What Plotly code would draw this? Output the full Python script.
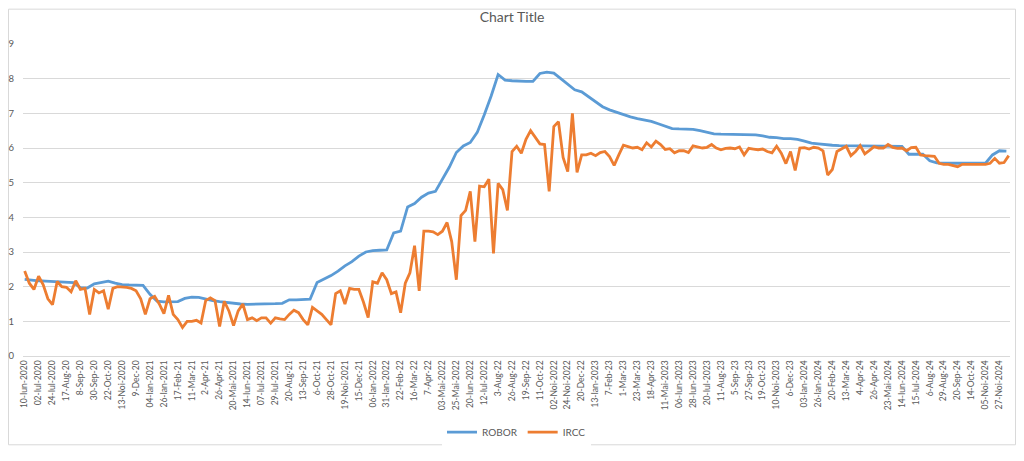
import plotly.graph_objects as go

# etichete axa X (o eticheta la fiecare ~16 zile lucratoare)
etichete = [
    '10-Iun-2020', '02-Iul-2020', '24-Iul-2020', '17-Aug-20', '8-Sep-20', '30-Sep-20',
    '22-Oct-20', '13-Noi-2020', '9-Dec-20', '04-Ian-2021', '26-Ian-2021', '17-Feb-21',
    '11-Mar-21', '2-Apr-21', '26-Apr-21', '20-Mai-2021', '14-Iun-2021', '07-Iul-2021',
    '29-Iul-2021', '20-Aug-21', '13-Sep-21', '6-Oct-21', '28-Oct-21', '19-Noi-2021',
    '15-Dec-21', '06-Ian-2022', '31-Ian-2022', '22-Feb-22', '16-Mar-22', '7-Apr-22',
    '03-Mai-2022', '25-Mai-2022', '20-Iun-2022', '12-Iul-2022', '3-Aug-22', '26-Aug-22',
    '19-Sep-22', '11-Oct-22', '02-Noi-2022', '24-Noi-2022', '20-Dec-22', '13-Ian-2023',
    '7-Feb-23', '1-Mar-23', '23-Mar-23', '18-Apr-23', '11-Mai-2023', '06-Iun-2023',
    '28-Iun-2023', '20-Iul-2023', '11-Aug-23', '5-Sep-23', '27-Sep-23', '19-Oct-23',
    '10-Noi-2023', '6-Dec-23', '03-Ian-2024', '26-Ian-2024', '20-Feb-24', '13-Mar-24',
    '4-Apr-24', '26-Apr-24', '23-Mai-2024', '14-Iun-2024', '15-Iul-2024', '6-Aug-24',
    '29-Aug-24', '20-Sep-24', '14-Oct-24', '05-Noi-2024', '27-Noi-2024',
]

# ROBOR: 2 valori pe interval de eticheta
robor = [
    2.21, 2.18, 2.17, 2.16, 2.15, 2.15, 2.14, 2.12, 1.97, 1.96,
    2.08, 2.12, 2.16, 2.10, 2.06, 2.05, 2.05, 2.04, 1.78, 1.58,
    1.56, 1.56, 1.57, 1.66, 1.70, 1.69, 1.64, 1.60, 1.57, 1.54,
    1.52, 1.50, 1.49, 1.49, 1.50, 1.50, 1.51, 1.52, 1.62, 1.62,
    1.62, 1.64, 2.12, 2.22, 2.32, 2.45, 2.60, 2.72, 2.88, 3.00,
    3.04, 3.05, 3.06, 3.55, 3.60, 4.30, 4.40, 4.58, 4.70, 4.75,
    5.10, 5.45, 5.87, 6.06, 6.16, 6.45, 6.95, 7.50, 8.12, 7.96,
    7.94, 7.92, 7.92, 7.92, 8.15, 8.19, 8.16, 8.00, 7.85, 7.68,
    7.62, 7.48, 7.32, 7.19, 7.10, 7.03, 6.96, 6.90, 6.85, 6.82,
    6.77, 6.70, 6.62, 6.56, 6.55, 6.55, 6.54, 6.50, 6.46, 6.41,
    6.40, 6.40, 6.39, 6.39, 6.39, 6.38, 6.35, 6.31, 6.30, 6.27,
    6.27, 6.25, 6.20, 6.14, 6.12, 6.09, 6.08, 6.07, 6.07, 6.06,
    6.06, 6.06, 6.06, 6.06, 6.06, 6.06, 6.05, 5.82, 5.82, 5.82,
    5.63, 5.57, 5.56, 5.56, 5.56, 5.56, 5.56, 5.56, 5.56, 5.80,
    5.92, 5.91,
]

# IRCC: 3 valori pe interval de eticheta
ircc = [
    2.45, 2.10, 1.92,  2.30, 2.05, 1.65,  1.48, 2.15, 2.00,  1.98, 1.85, 2.17,
    1.92, 1.95, 1.20,  1.92, 1.82, 1.88,  1.35, 1.95, 2.00,  2.00, 1.98, 1.95,
    1.88, 1.65, 1.20,  1.65, 1.72, 1.50,  1.22, 1.75, 1.20,  1.05, 0.82, 1.00,
    1.00, 1.03, 0.95,  1.60, 1.68, 1.60,  0.85, 1.58, 1.30,  0.88, 1.30, 1.50,
    1.05, 1.10, 1.02,  1.10, 1.10, 0.95,  1.10, 1.07, 1.05,  1.20, 1.32, 1.25,
    1.05, 0.90, 1.40,  1.30, 1.20, 1.05,  0.90, 1.80, 1.88,  1.50, 1.95, 1.92,
    1.92, 1.55, 1.11,  2.14, 2.10, 2.40,  2.20, 1.80, 1.85,  1.25, 2.10, 2.40,
    3.18, 1.88, 3.60,  3.60, 3.58, 3.50,  3.60, 3.85, 3.30,  2.20, 4.05, 4.20,
    4.75, 3.30, 4.90,  4.88, 5.10, 2.96,  4.98, 4.80, 4.20,  5.90, 6.05, 5.85,
    6.25, 6.50, 6.30,  6.12, 6.10, 4.75,  6.62, 6.76, 5.73,  5.32, 7.00, 5.30,
    5.80, 5.80, 5.85,  5.78, 5.87, 5.90,  5.75, 5.50, 5.80,  6.08, 6.04, 6.00,
    6.02, 5.95, 6.15,  6.03, 6.20, 6.10,  5.96, 5.98, 5.86,  5.92, 5.92, 5.87,
    6.06, 6.02, 6.00,  6.02, 6.10, 6.00,  5.95, 5.99, 6.00,  5.98, 6.03, 5.80,
    5.99, 5.97, 5.95,  5.97, 5.90, 5.86,  6.05, 5.85, 5.55,  5.90, 5.35, 6.00,
    6.01, 5.97, 6.02,  6.00, 5.92, 5.22,  5.38, 5.90, 5.97,  6.05, 5.78, 5.90,
    6.07, 5.83, 5.93,  6.04, 6.00, 6.00,  6.10, 6.02, 5.99,  6.00, 5.92, 6.01,
    6.02, 5.80, 5.78,  5.77, 5.76, 5.56,  5.53, 5.53, 5.50,  5.46, 5.53, 5.53,
    5.52, 5.53, 5.53,  5.53, 5.56, 5.70,  5.56, 5.58, 5.78,
]

gri = '#595959'
font_nume = 'Lato'

fig = go.Figure()
fig.add_trace(go.Scatter(
    x=[i / 2 for i in range(len(robor))], y=robor,
    mode='lines', name='ROBOR',
    line=dict(color='#5B9BD5', width=2.8),
))
fig.add_trace(go.Scatter(
    x=[i / 3 for i in range(len(ircc))], y=ircc,
    mode='lines', name='IRCC',
    line=dict(color='#ED7D31', width=2.8),
))

# pagina are marginea implicita de 8px, asa ca figura e 1008x445
fig.update_layout(
    width=1008, height=445,
    margin=dict(l=15, r=6, t=36, b=91),
    paper_bgcolor='white', plot_bgcolor='white',
    font=dict(family=font_nume, color=gri),
    title=dict(text='Chart Title', x=0.5, xanchor='center', y=1 - 9 / 445, yanchor='middle',
               font=dict(size=14, color=gri, family=font_nume)),
    legend=dict(orientation='h', x=0.5, xanchor='center', y=-0.244, yanchor='middle',
                font=dict(size=10, color=gri), itemwidth=30),
    showlegend=True,
)
fig.update_xaxes(
    range=[-0.12, 70.76], automargin=False,
    tickmode='array', tickvals=list(range(len(etichete))), ticktext=etichete,
    tickangle=-90, tickfont=dict(size=8.5, color=gri),
    showgrid=False, showline=True, linecolor='#d9d9d9', linewidth=1,
    ticks='', zeroline=False,
)
fig.update_yaxes(
    range=[0, 9], dtick=1, automargin=False, tickfont=dict(size=9.5, color=gri),
    showgrid=True, gridcolor='#d9d9d9', gridwidth=1,
    zeroline=False, showline=False, ticks='', ticklabelstandoff=8,
)
# chenarul graficului (ca in Excel)
fig.add_shape(type='rect', xref='paper', yref='paper',
              x0=-14.5 / 987, x1=1 + 5.5 / 987, y0=-90.5 / 318, y1=1 + 35.5 / 318,
              line=dict(color='#d9d9d9', width=1), fillcolor='rgba(0,0,0,0)', layer='below')

fig.write_html('out.html')
